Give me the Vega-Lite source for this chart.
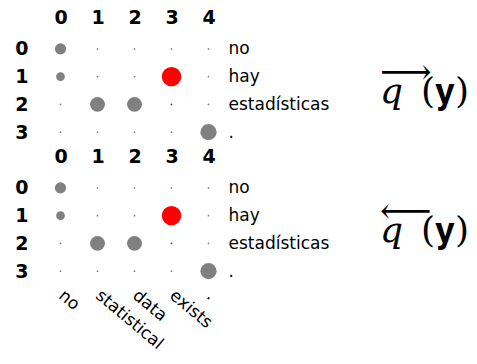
{
  "$schema": "https://vega.github.io/schema/vega-lite/v6.json",
  "padding": {"left": 14, "top": 8, "right": 0, "bottom": 0},
  "config": {
    "view": {"stroke": null},
    "font": "DejaVu Sans",
    "concat": {"spacing": 1},
    "axis": {"ticks": false, "domain": false, "grid": false, "title": null, "labelColor": "#000000"}
  },
  "datasets": {
    "cells": [
      {"row": 0, "col": 0, "w": 0.33, "c": "gray"},
      {"row": 0, "col": 1, "w": 0.008, "c": "gray"},
      {"row": 0, "col": 2, "w": 0.008, "c": "gray"},
      {"row": 0, "col": 3, "w": 0.008, "c": "gray"},
      {"row": 0, "col": 4, "w": 0.008, "c": "gray"},
      {"row": 1, "col": 0, "w": 0.2, "c": "gray"},
      {"row": 1, "col": 1, "w": 0.008, "c": "gray"},
      {"row": 1, "col": 2, "w": 0.008, "c": "gray"},
      {"row": 1, "col": 3, "w": 1.0, "c": "red"},
      {"row": 1, "col": 4, "w": 0.008, "c": "gray"},
      {"row": 2, "col": 0, "w": 0.008, "c": "gray"},
      {"row": 2, "col": 1, "w": 0.58, "c": "gray"},
      {"row": 2, "col": 2, "w": 0.58, "c": "gray"},
      {"row": 2, "col": 3, "w": 0.008, "c": "red"},
      {"row": 2, "col": 4, "w": 0.008, "c": "gray"},
      {"row": 3, "col": 0, "w": 0.008, "c": "gray"},
      {"row": 3, "col": 1, "w": 0.008, "c": "gray"},
      {"row": 3, "col": 2, "w": 0.008, "c": "gray"},
      {"row": 3, "col": 3, "w": 0.008, "c": "gray"},
      {"row": 3, "col": 4, "w": 0.69, "c": "gray"}
    ]
  },
  "vconcat": [
    {
      "width": 185,
      "height": 111,
      "data": {"name": "cells"},
      "title": {"text": ["⟶", "\u2009\u2009𝑞\u2002(𝐲)"], "orient": "right", "angle": 0, "align": "left", "anchor": "middle", "font": "DejaVu Serif", "fontSize": 36, "fontWeight": "normal", "lineHeight": 19, "offset": -38, "dy": -35},
      "layer": [
        {
          "mark": {"type": "circle", "opacity": 1},
          "encoding": {
            "x": {"field": "col", "type": "ordinal", "axis": {"orient": "top", "labelAngle": 0, "labelFontWeight": "bold", "labelFontSize": 19, "labelPadding": 8}},
            "y": {"field": "row", "type": "ordinal", "axis": {"orient": "left", "labelFontWeight": "bold", "labelFontSize": 19, "labelPadding": 14}},
            "size": {"field": "w", "type": "quantitative", "scale": {"domain": [0, 1], "range": [0, 380]}, "legend": null},
            "color": {"field": "c", "type": "nominal", "scale": {"domain": ["gray", "red"], "range": ["#808080", "#ff0000"]}, "legend": null}
          }
        },
        {
          "mark": {"type": "circle", "opacity": 0},
          "encoding": {
            "x": {"field": "col", "type": "ordinal", "axis": null},
            "y": {"field": "row", "type": "ordinal", "axis": {"orient": "right", "labelFontSize": 17, "labelPadding": 1, "labelExpr": "['no','hay','estadísticas','.'][datum.value]"}}
          }
        }
      ],
      "resolve": {"axis": {"x": "independent", "y": "independent"}}
    },
    {
      "width": 185,
      "height": 111,
      "data": {"name": "cells"},
      "title": {"text": ["⟵", "\u2009\u2009𝑞\u2002(𝐲)"], "orient": "right", "angle": 0, "align": "left", "anchor": "middle", "font": "DejaVu Serif", "fontSize": 36, "fontWeight": "normal", "lineHeight": 19, "offset": -38, "dy": -35},
      "layer": [
        {
          "mark": {"type": "circle", "opacity": 1},
          "encoding": {
            "x": {"field": "col", "type": "ordinal", "axis": {"orient": "top", "labelAngle": 0, "labelFontWeight": "bold", "labelFontSize": 19, "labelPadding": 8}},
            "y": {"field": "row", "type": "ordinal", "axis": {"orient": "left", "labelFontWeight": "bold", "labelFontSize": 19, "labelPadding": 14}},
            "size": {"field": "w", "type": "quantitative", "scale": {"domain": [0, 1], "range": [0, 380]}, "legend": null},
            "color": {"field": "c", "type": "nominal", "scale": {"domain": ["gray", "red"], "range": ["#808080", "#ff0000"]}, "legend": null}
          }
        },
        {
          "mark": {"type": "circle", "opacity": 0},
          "encoding": {
            "x": {"field": "col", "type": "ordinal", "axis": {"orient": "bottom", "labelAngle": 40, "labelAlign": "left", "labelBaseline": "middle", "labelFontSize": 17, "labelPadding": 8, "labelExpr": "['no','statistical','data','exists','.'][datum.value]"}},
            "y": {"field": "row", "type": "ordinal", "axis": {"orient": "right", "labelFontSize": 17, "labelPadding": 1, "labelExpr": "['no','hay','estadísticas','.'][datum.value]"}}
          }
        }
      ],
      "resolve": {"axis": {"x": "independent", "y": "independent"}}
    }
  ]
}
